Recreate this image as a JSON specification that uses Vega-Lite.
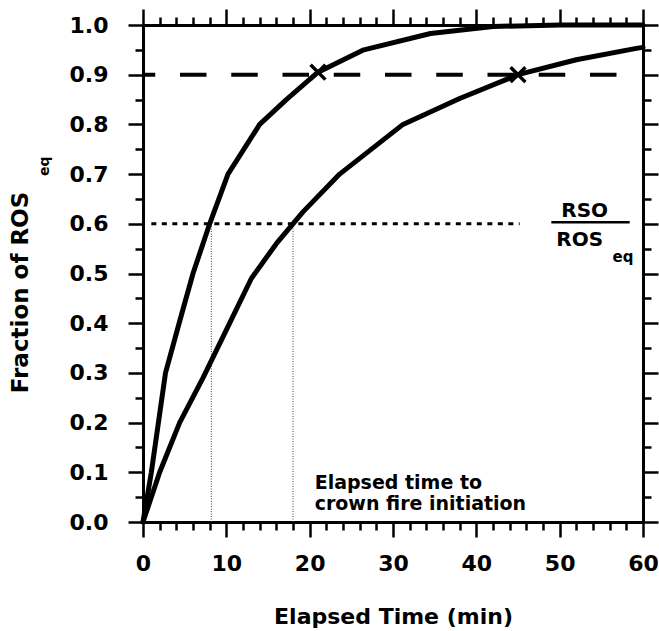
{
  "$schema": "https://vega.github.io/schema/vega-lite/v6.json",
  "width": 500,
  "height": 497,
  "autosize": {"type": "none"},
  "padding": {"left": 143, "top": 25, "right": 16, "bottom": 109},
  "background": "white",
  "config": {
    "view": {"stroke": null},
    "font": "DejaVu Sans",
    "axis": {
      "grid": false,
      "domainColor": "black",
      "domainWidth": 3,
      "tickColor": "black",
      "tickWidth": 2.5,
      "labelColor": "black",
      "titleColor": "black",
      "labelFont": "DejaVu Sans",
      "titleFont": "DejaVu Sans",
      "labelFontWeight": "bold",
      "titleFontWeight": "bold",
      "labelFontSize": 22,
      "titleFontSize": 22,
      "labelOverlap": false,
      "labelFlush": false
    }
  },
  "datasets": {
    "curves": [
      {"t": 0, "f": 0, "series": "fast"},
      {"t": 1, "f": 0.1, "series": "fast"},
      {"t": 2.7, "f": 0.3, "series": "fast"},
      {"t": 4.5, "f": 0.41, "series": "fast"},
      {"t": 6, "f": 0.5, "series": "fast"},
      {"t": 8, "f": 0.6, "series": "fast"},
      {"t": 10.2, "f": 0.7, "series": "fast"},
      {"t": 14, "f": 0.8, "series": "fast"},
      {"t": 17.2, "f": 0.85, "series": "fast"},
      {"t": 21, "f": 0.905, "series": "fast"},
      {"t": 26.5, "f": 0.95, "series": "fast"},
      {"t": 34.5, "f": 0.983, "series": "fast"},
      {"t": 42, "f": 0.997, "series": "fast"},
      {"t": 50, "f": 1.0, "series": "fast"},
      {"t": 60, "f": 1.0, "series": "fast"},
      {"t": 0, "f": 0, "series": "slow"},
      {"t": 2, "f": 0.1, "series": "slow"},
      {"t": 4.4, "f": 0.2, "series": "slow"},
      {"t": 7.2, "f": 0.29, "series": "slow"},
      {"t": 10.4, "f": 0.4, "series": "slow"},
      {"t": 13, "f": 0.49, "series": "slow"},
      {"t": 16, "f": 0.56, "series": "slow"},
      {"t": 19.2, "f": 0.624, "series": "slow"},
      {"t": 23.6, "f": 0.7, "series": "slow"},
      {"t": 31.2, "f": 0.8, "series": "slow"},
      {"t": 38, "f": 0.852, "series": "slow"},
      {"t": 45, "f": 0.9, "series": "slow"},
      {"t": 52, "f": 0.93, "series": "slow"},
      {"t": 59.2, "f": 0.953, "series": "slow"},
      {"t": 60, "f": 0.955, "series": "slow"}
    ],
    "crossings": [
      {"t": 8.2, "f0": 0, "f1": 0.6},
      {"t": 18, "f0": 0, "f1": 0.6}
    ],
    "threshold": [{"t0": 1, "t1": 45.2, "f": 0.6}],
    "ninety": [{"t0": 0, "t1": 57, "f": 0.9}],
    "marks90": [
      {"t": 21, "f": 0.905},
      {"t": 45, "f": 0.9}
    ],
    "ratioBar": [{"t0": 49, "t1": 58.4, "f": 0.603}],
    "ratioText": [
      {"t": 53, "f": 0.625, "label": "RSO"},
      {"t": 52.4, "f": 0.567, "label": "ROS"}
    ],
    "ratioSub": [{"t": 57.6, "f": 0.533, "label": "eq"}],
    "note": [
      {"t": 20.6, "f": 0.078, "label": "Elapsed time to"},
      {"t": 20.6, "f": 0.036, "label": "crown fire initiation"}
    ],
    "titleSub": [{"t": -11.8, "f": 0.716, "label": "eq"}]
  },
  "layer": [
    {
      "data": {"name": "crossings"},
      "mark": {"type": "rule", "color": "#444", "strokeWidth": 1, "strokeDash": [1, 1.5]},
      "encoding": {
        "x": {"field": "t", "type": "quantitative", "axis": null},
        "y": {"field": "f0", "type": "quantitative", "axis": null},
        "y2": {"field": "f1"}
      }
    },
    {
      "data": {"name": "threshold"},
      "mark": {"type": "rule", "color": "black", "strokeWidth": 3, "strokeDash": [5, 5.5]},
      "encoding": {
        "x": {"field": "t0", "type": "quantitative", "axis": null},
        "x2": {"field": "t1"},
        "y": {"field": "f", "type": "quantitative", "axis": null}
      }
    },
    {
      "data": {"name": "ninety"},
      "mark": {"type": "rule", "color": "black", "strokeWidth": 4, "strokeDash": [26.5, 24.75], "strokeDashOffset": 14.25},
      "encoding": {
        "x": {"field": "t0", "type": "quantitative", "axis": null},
        "x2": {"field": "t1"},
        "y": {"field": "f", "type": "quantitative", "axis": null}
      }
    },
    {
      "data": {"name": "curves"},
      "mark": {"type": "line", "color": "black", "strokeWidth": 5, "strokeJoin": "round", "strokeCap": "round"},
      "encoding": {
        "detail": {"field": "series"},
        "x": {
          "field": "t",
          "type": "quantitative",
          "scale": {"domain": [0, 60], "nice": false, "zero": false},
          "axis": {
            "orient": "bottom",
            "values": [0, 2, 4, 6, 8, 10, 12, 14, 16, 18, 20, 22, 24, 26, 28, 30, 32, 34, 36, 38, 40, 42, 44, 46, 48, 50, 52, 54, 56, 58, 60],
            "labelExpr": "datum.value % 10 === 0 ? datum.label : ''",
            "tickSize": 15,
            "tickDash": {"condition": {"test": "datum.value % 10 !== 0", "value": [8, 30]}, "value": []},
            "labelPadding": 16,
            "title": "Elapsed Time (min)",
            "titleY": 101,
            "titleBaseline": "alphabetic"
          }
        },
        "y": {
          "field": "f",
          "type": "quantitative",
          "scale": {"domain": [0, 1], "nice": false, "zero": false},
          "axis": {
            "orient": "left",
            "values": [0, 0.05, 0.1, 0.15, 0.2, 0.25, 0.3, 0.35, 0.4, 0.45, 0.5, 0.55, 0.6, 0.65, 0.7, 0.75, 0.8, 0.85, 0.9, 0.95, 1],
            "labelExpr": "round(datum.value * 20) % 2 === 0 ? format(datum.value, '.1f') : ''",
            "tickSize": 15,
            "tickDash": {"condition": {"test": "round(datum.value * 20) % 2 !== 0", "value": [8, 30]}, "value": []},
            "labelPadding": 20,
            "title": "Fraction of ROS",
            "titleFontSize": 23,
            "titleAngle": 270,
            "titleX": -116,
            "titleY": 267,
            "titleAlign": "center",
            "titleBaseline": "alphabetic"
          }
        }
      }
    },
    {
      "data": {"name": "marks90"},
      "mark": {"type": "point", "shape": "M-1,-1L1,1M-1,1L1,-1", "filled": false, "color": "black", "strokeWidth": 3.5, "size": 220, "opacity": 1},
      "encoding": {
        "x": {
          "field": "t",
          "type": "quantitative",
          "axis": {
            "orient": "top",
            "values": [0, 2, 4, 6, 8, 10, 12, 14, 16, 18, 20, 22, 24, 26, 28, 30, 32, 34, 36, 38, 40, 42, 44, 46, 48, 50, 52, 54, 56, 58, 60],
            "labels": false,
            "title": null,
            "tickSize": 16,
            "tickDash": {"condition": {"test": "datum.value % 10 !== 0", "value": [8, 30]}, "value": []}
          }
        },
        "y": {
          "field": "f",
          "type": "quantitative",
          "axis": {
            "orient": "right",
            "values": [0, 0.05, 0.1, 0.15, 0.2, 0.25, 0.3, 0.35, 0.4, 0.45, 0.5, 0.55, 0.6, 0.65, 0.7, 0.75, 0.8, 0.85, 0.9, 0.95, 1],
            "labels": false,
            "title": null,
            "tickSize": 15,
            "tickDash": {"condition": {"test": "round(datum.value * 20) % 2 !== 0", "value": [8, 30]}, "value": []}
          }
        }
      }
    },
    {
      "data": {"name": "ratioBar"},
      "mark": {"type": "rule", "color": "black", "strokeWidth": 2.5},
      "encoding": {
        "x": {"field": "t0", "type": "quantitative", "axis": null},
        "x2": {"field": "t1"},
        "y": {"field": "f", "type": "quantitative", "axis": null}
      }
    },
    {
      "data": {"name": "ratioText"},
      "mark": {"type": "text", "font": "DejaVu Sans", "fontWeight": "bold", "fontSize": 20, "color": "black", "align": "center", "baseline": "middle"},
      "encoding": {
        "x": {"field": "t", "type": "quantitative", "axis": null},
        "y": {"field": "f", "type": "quantitative", "axis": null},
        "text": {"field": "label"}
      }
    },
    {
      "data": {"name": "ratioSub"},
      "mark": {"type": "text", "font": "DejaVu Sans", "fontWeight": "bold", "fontSize": 15, "color": "black", "align": "center", "baseline": "middle"},
      "encoding": {
        "x": {"field": "t", "type": "quantitative", "axis": null},
        "y": {"field": "f", "type": "quantitative", "axis": null},
        "text": {"field": "label"}
      }
    },
    {
      "data": {"name": "note"},
      "mark": {"type": "text", "font": "DejaVu Sans", "fontWeight": "bold", "fontSize": 19, "color": "black", "align": "left", "baseline": "middle"},
      "encoding": {
        "x": {"field": "t", "type": "quantitative", "axis": null},
        "y": {"field": "f", "type": "quantitative", "axis": null},
        "text": {"field": "label"}
      }
    },
    {
      "data": {"name": "titleSub"},
      "mark": {"type": "text", "font": "DejaVu Sans", "fontWeight": "bold", "fontSize": 14, "color": "black", "align": "center", "baseline": "middle", "angle": 270},
      "encoding": {
        "x": {"field": "t", "type": "quantitative", "axis": null},
        "y": {"field": "f", "type": "quantitative", "axis": null},
        "text": {"field": "label"}
      }
    }
  ],
  "resolve": {"axis": {"x": "independent", "y": "independent"}}
}
